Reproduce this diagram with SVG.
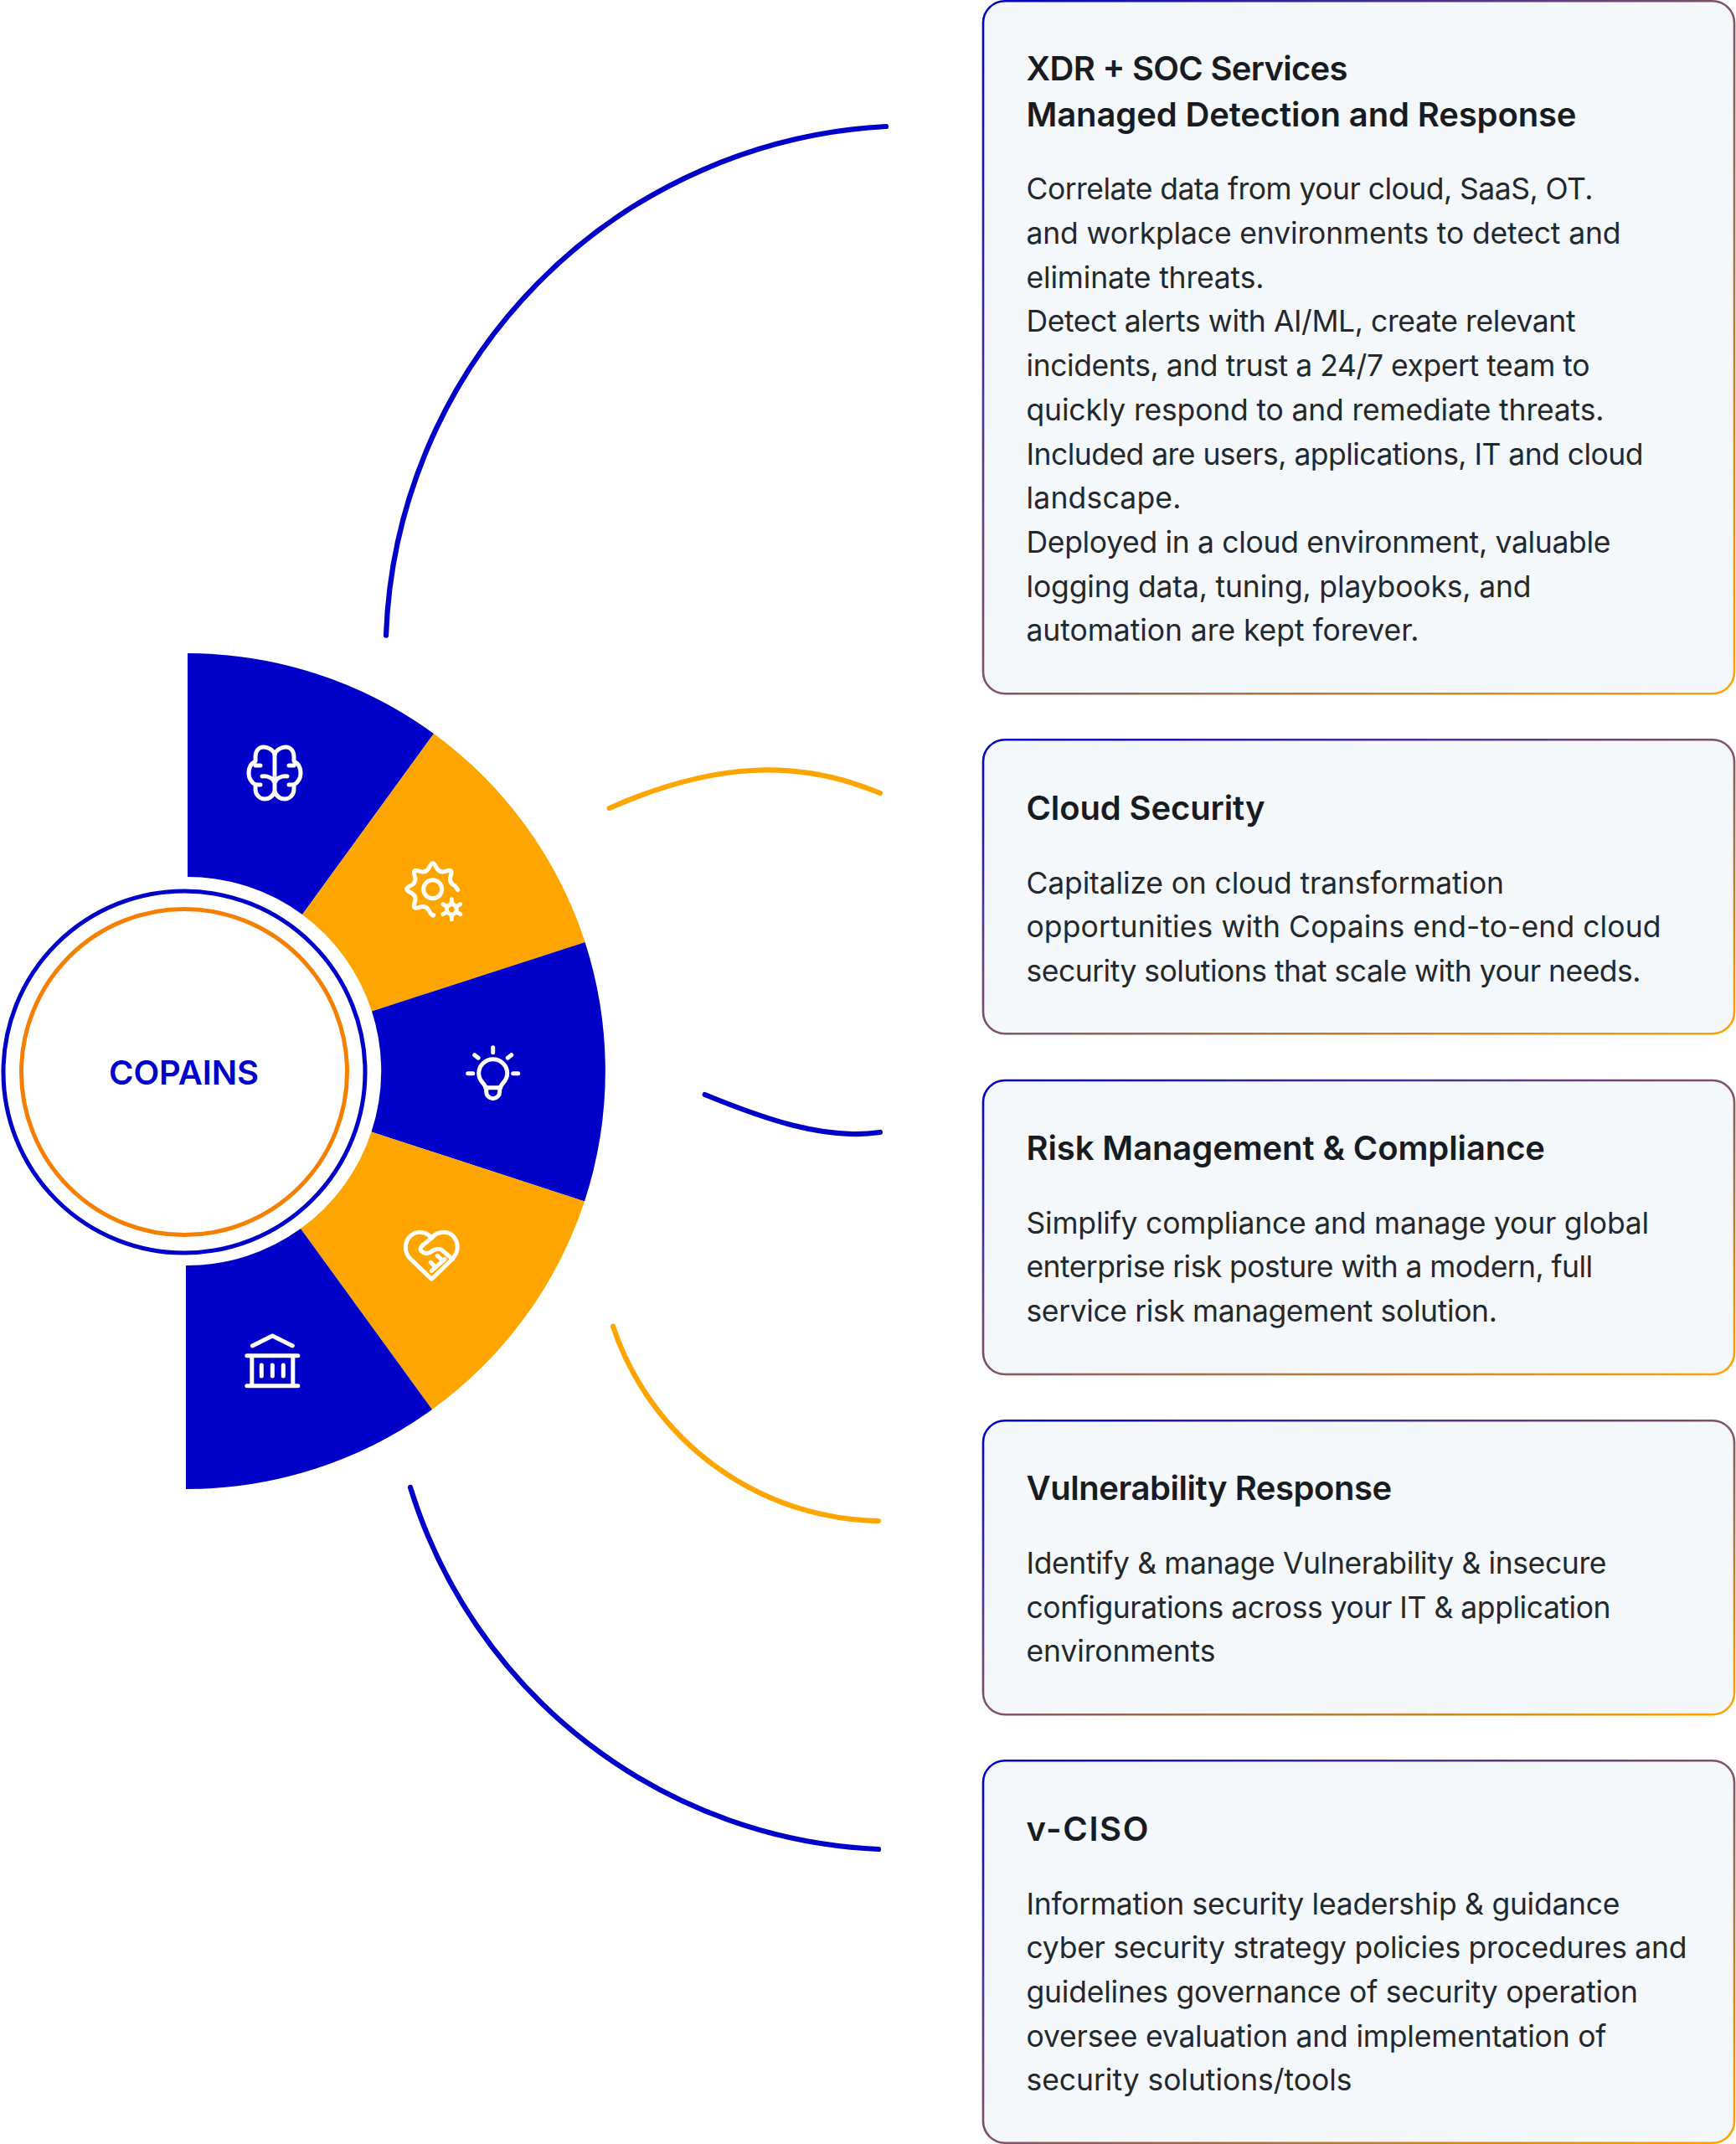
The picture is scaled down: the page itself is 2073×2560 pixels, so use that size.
<svg xmlns="http://www.w3.org/2000/svg" width="2073" height="2560" viewBox="0 0 2073 2560">
<style>
.blue{fill:#0000c8}
.orange{fill:#ffa500}
.ic{fill:none;stroke:#fff;stroke-width:5;stroke-linecap:round;stroke-linejoin:round}
.conn{fill:none;stroke-width:6.2;stroke-linecap:round}
.cb{stroke:#0000c8}
.co{stroke:#ffa500}
.card{fill:#f4f8fb;stroke:url(#edge);stroke-width:2.6}
.t{font-family:"Inter","Liberation Sans",sans-serif;font-size:40px;font-weight:600;fill:#181b1f}
.b{font-family:"Inter","Liberation Sans",sans-serif;font-size:35.5px;font-weight:400;fill:#24282c}
</style>
<defs>
<linearGradient id="edge" x1="0" y1="0" x2="1" y2="1">
<stop offset="0" stop-color="#0000c8"/>
<stop offset="1" stop-color="#ffa500"/>
</linearGradient>
</defs>
<rect width="2073" height="2560" fill="#fff"/>

<g id="connectors">
<path class="conn cb" d="M461,758.6 A631,631 0 0 1 1058,151"/>
<path class="conn co" d="M727.7,965 C850,911 950,905 1051,947"/>
<path class="conn cb" d="M841.7,1307 C910,1335 985,1362 1051,1352"/>
<path class="conn co" d="M732,1583.7 A340,340 0 0 0 1049,1816"/>
<path class="conn cb" d="M490,1776 A612,612 0 0 0 1049,2208"/>
</g>

<g id="wheel">
<g id="sector-brain">
<path class="blue" d="M224,780 A500,500 0 0 1 518,876 L361,1092 A232,232 0 0 0 224,1047 Z"/>
<g class="ic" transform="translate(328,923)">
<path d="M0,-22 C-2,-28 -8,-31 -13,-31 C-20,-31 -23,-25 -23,-19 L-23,-14 C-29,-11 -31,-5 -31,0 C-31,6 -28,11 -23,14 L-23,19 C-23,26 -18,31 -12,31 C-6,31 -2,27 0,22 C2,27 6,31 12,31 C18,31 23,26 23,19 L23,14 C28,11 31,6 31,0 C31,-5 29,-11 23,-14 L23,-19 C23,-25 20,-31 13,-31 C8,-31 2,-28 0,-22 Z"/>
<path d="M0,-22 V22 M-23,-9 H-17 M23,-9 H17 M-15,4 C-8,3 -2,6 0,12 C2,6 8,3 15,4 M-23,14 H-17 M23,14 H17"/>
</g>
</g>
<g id="sector-gear">
<path class="orange" d="M518,876 A500,500 0 0 1 698.6,1125 L444,1207.5 A232,232 0 0 0 361,1092 Z"/>
<g class="ic" transform="translate(516.7,1061.7)">
<path d="M30,1 L26.8,-3.85 Q18.5,-7.7 21.6,-16.2 Q24.7,-24.7 16.2,-21.6 Q7.7,-18.5 3.85,-26.8 Q0,-35 -3.85,-26.8 Q-7.7,-18.5 -16.2,-21.6 Q-24.7,-24.7 -21.6,-16.2 Q-18.5,-7.7 -26.8,-3.85 Q-35,0 -26.8,3.85 Q-18.5,7.7 -21.6,16.2 Q-24.7,24.7 -16.2,21.6 Q-7.7,18.5 -3.85,26.8 Q0,33 1,31"/>
<circle cx="0" cy="0" r="11"/>
</g>
<g class="ic" transform="translate(539.3,1085.7)">
<circle cx="0" cy="0" r="6"/>
<path d="M0,-6 V-12 M0,6 V12 M5.2,-3 L10.4,-6 M-5.2,-3 L-10.4,-6 M5.2,3 L10.4,6 M-5.2,3 L-10.4,6"/>
</g>
</g>
<g id="sector-bulb">
<path class="blue" d="M698.6,1125 A500,500 0 0 1 698,1434.5 L443.5,1351.5 A232,232 0 0 0 444,1207.5 Z"/>
<g class="ic" transform="translate(588.7,1281.7)">
<path d="M-9,17 C-9,12 -17,10 -17,0 A17,17 0 0 1 17,0 C17,10 9,12 9,17 Z"/>
<path d="M-8,17 V22 A8,8 0 0 0 8,22 V17"/>
<path d="M0,-31 V-25 M-22,-22 L-17.5,-18.5 M22,-22 L17.5,-18.5 M-30,0 H-24 M30,0 H24"/>
</g>
</g>
<g id="sector-heart">
<path class="orange" d="M698,1434.5 A500,500 0 0 1 516,1683 L359,1467 A232,232 0 0 0 443.5,1351.5 Z"/>
<g class="ic" transform="translate(515.3,1498.3)">
<path d="M0,29 L-25,5 C-30,0 -31,-4 -31,-9 C-31,-19 -23,-27 -14,-27 C-8,-27 -3,-24 0,-20 C3,-24 8,-27 15,-27 C24,-27 31,-19 31,-9 C31,-4 29,0 25,5 Z"/>
<path d="M0,-20 L-11,-11 Q-16,-6 -10,-3 Q-5,0 0,-4 Q6,-9 12,-6 L25,5 M0,19 L16,5 M-1,9 L5,15 M7,1 L13,7"/>
</g>
</g>
<g id="sector-bank">
<path class="blue" d="M516,1683 A500,500 0 0 1 222,1778 L222,1511 A232,232 0 0 0 359,1467 Z"/>
<g class="ic" transform="translate(325.3,1625)">
<path d="M-24,-18 L0,-30 L24,-18"/>
<path d="M-30.5,-6.3 H30.5 M-30.5,29.7 H30.5 M-24.5,-6.3 V29.7 M24.5,-6.3 V29.7 M-13,5 V18 M0,5 V18 M13,5 V18"/>
</g>
</g>
</g>

<g id="hub">
<circle cx="220" cy="1280" r="216" fill="#fff" stroke="#0000c8" stroke-width="5"/>
<circle cx="220" cy="1280" r="194.5" fill="#fff" stroke="#f57f00" stroke-width="5"/>
<text x="219.5" y="1295" text-anchor="middle" textLength="179" font-family="Inter, 'Liberation Sans', sans-serif" font-size="40" font-weight="600" fill="#0000c8">COPAINS</text>
</g>

<g id="card-xdr">
<rect class="card" x="1174" y="1.3" width="897" height="827" rx="26"/>
<text class="t" x="1225.5" y="96" textLength="384">XDR + SOC Services</text>
<text class="t" x="1225.5" y="150.7" textLength="657">Managed Detection and Response</text>
<text class="b" x="1225.5" y="238.3" textLength="677">Correlate data from your cloud, SaaS, OT.</text>
<text class="b" x="1225.5" y="291" textLength="710">and workplace environments to detect and</text>
<text class="b" x="1225.5" y="343.7" textLength="284">eliminate threats.</text>
<text class="b" x="1225.5" y="396.4" textLength="656">Detect alerts with AI/ML, create relevant</text>
<text class="b" x="1225.5" y="449.1" textLength="673">incidents, and trust a 24/7 expert team to</text>
<text class="b" x="1225.5" y="501.8" textLength="690">quickly respond to and remediate threats.</text>
<text class="b" x="1225.5" y="554.5" textLength="737">Included are users, applications, IT and cloud</text>
<text class="b" x="1225.5" y="607.2" textLength="185">landscape.</text>
<text class="b" x="1225.5" y="659.9" textLength="698">Deployed in a cloud environment, valuable</text>
<text class="b" x="1225.5" y="712.6" textLength="603">logging data, tuning, playbooks, and</text>
<text class="b" x="1225.5" y="765.3" textLength="469">automation are kept forever.</text>
</g>

<g id="card-cloud">
<rect class="card" x="1174" y="883.3" width="897" height="351" rx="26"/>
<text class="t" x="1225.5" y="978.5" textLength="285">Cloud Security</text>
<text class="b" x="1225.5" y="1066.7" textLength="570.5">Capitalize on cloud transformation</text>
<text class="b" x="1225.5" y="1119.4" textLength="758">opportunities with Copains end-to-end cloud</text>
<text class="b" x="1225.5" y="1172.1" textLength="734">security solutions that scale with your needs.</text>
</g>

<g id="card-risk">
<rect class="card" x="1174" y="1290" width="897" height="351" rx="26"/>
<text class="t" x="1225.5" y="1385" textLength="619.5">Risk Management &amp; Compliance</text>
<text class="b" x="1225.5" y="1472.7" textLength="743.6">Simplify compliance and manage your global</text>
<text class="b" x="1225.5" y="1525.4" textLength="676.6">enterprise risk posture with a modern, full</text>
<text class="b" x="1225.5" y="1578.1" textLength="562.4">service risk management solution.</text>
</g>

<g id="card-vuln">
<rect class="card" x="1174" y="1696.3" width="897" height="351" rx="26"/>
<text class="t" x="1225.5" y="1791" textLength="436.7">Vulnerability Response</text>
<text class="b" x="1225.5" y="1879" textLength="693">Identify &amp; manage Vulnerability &amp; insecure</text>
<text class="b" x="1225.5" y="1931.7" textLength="698">configurations across your IT &amp; application</text>
<text class="b" x="1225.5" y="1984.4" textLength="226">environments</text>
</g>

<g id="card-vciso">
<rect class="card" x="1174" y="2102.3" width="897" height="456.4" rx="26"/>
<text class="t" x="1225.5" y="2197.5" textLength="146">v-CISO</text>
<text class="b" x="1225.5" y="2285.5" textLength="709">Information security leadership &amp; guidance</text>
<text class="b" x="1225.5" y="2338.2" textLength="789">cyber security strategy policies procedures and</text>
<text class="b" x="1225.5" y="2390.9" textLength="730.5">guidelines governance of security operation</text>
<text class="b" x="1225.5" y="2443.6" textLength="693">oversee evaluation and implementation of</text>
<text class="b" x="1225.5" y="2496.3" textLength="389">security solutions/tools</text>
</g>
</svg>
